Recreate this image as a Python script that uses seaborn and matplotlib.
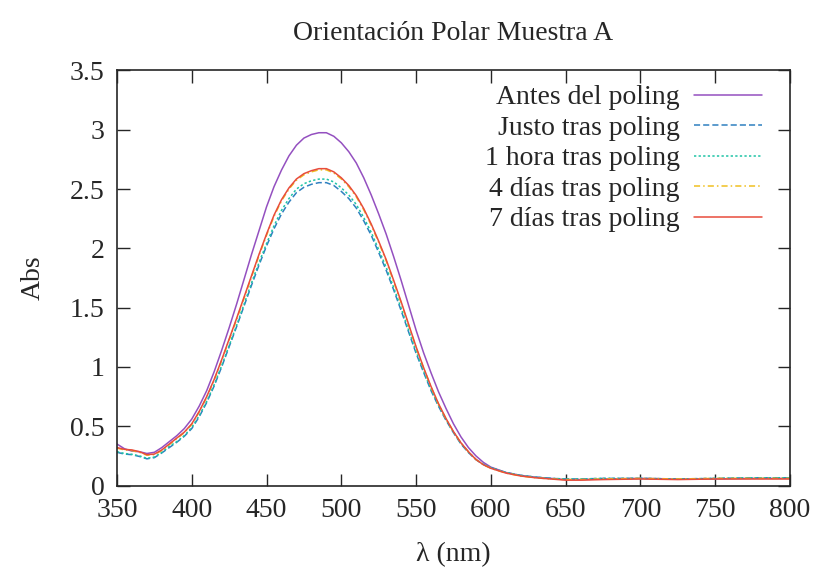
import matplotlib
matplotlib.use('Agg')
import matplotlib.pyplot as plt
import seaborn as sns

# longitudes de onda (nm)
wl = (list(range(350, 400, 5)) + list(range(400, 601, 5))
      + list(range(610, 661, 10)) + [675, 700, 725, 750, 775, 800])

antes = [0.35, 0.31, 0.29, 0.285, 0.27, 0.28, 0.32, 0.37, 0.42, 0.48,
         0.56, 0.67, 0.80, 0.96, 1.14, 1.33, 1.53, 1.74, 1.95, 2.15,
         2.35, 2.52, 2.66, 2.78, 2.87, 2.93, 2.96, 2.975, 2.975, 2.945,
         2.89, 2.815, 2.72, 2.595, 2.45, 2.29, 2.12, 1.93, 1.73, 1.52,
         1.31, 1.12, 0.95, 0.79, 0.65, 0.52, 0.41, 0.32, 0.25, 0.195,
         0.155,
         0.11, 0.085, 0.07, 0.06, 0.05, 0.05,
         0.055, 0.06, 0.055, 0.055, 0.06, 0.06]

justo = [0.28, 0.265, 0.26, 0.245, 0.225, 0.235, 0.275, 0.32, 0.365, 0.415,
         0.48, 0.58, 0.70, 0.84, 1.00, 1.17, 1.34, 1.515, 1.69, 1.86,
         2.02, 2.165, 2.29, 2.39, 2.47, 2.515, 2.54, 2.554, 2.554, 2.53,
         2.48, 2.42, 2.34, 2.232, 2.11, 1.965, 1.815, 1.65, 1.475, 1.295,
         1.115, 0.955, 0.80, 0.668, 0.55, 0.445, 0.35, 0.278, 0.218, 0.177,
         0.15,
         0.11, 0.085, 0.07, 0.06, 0.055, 0.055,
         0.06, 0.06, 0.055, 0.06, 0.065, 0.065]

una_hora = [0.285, 0.27, 0.263, 0.25, 0.229, 0.24, 0.28, 0.33, 0.37, 0.42,
            0.49, 0.59, 0.71, 0.85, 1.01, 1.18, 1.35, 1.53, 1.71, 1.88,
            2.04, 2.19, 2.32, 2.42, 2.50, 2.545, 2.57, 2.584, 2.584, 2.56,
            2.51, 2.45, 2.37, 2.26, 2.135, 1.99, 1.84, 1.67, 1.495, 1.31,
            1.13, 0.965, 0.81, 0.675, 0.555, 0.45, 0.355, 0.28, 0.22, 0.178,
            0.15,
            0.11, 0.085, 0.07, 0.06, 0.055, 0.055,
            0.06, 0.06, 0.055, 0.06, 0.065, 0.065]

cuatro_dias = [0.315, 0.30, 0.295, 0.28, 0.255, 0.26, 0.295, 0.345, 0.395, 0.445,
               0.515, 0.62, 0.745, 0.89, 1.055, 1.228, 1.40, 1.58, 1.76, 1.94,
               2.11, 2.27, 2.40, 2.50, 2.575, 2.62, 2.645, 2.662, 2.662, 2.635,
               2.585, 2.52, 2.435, 2.325, 2.195, 2.05, 1.895, 1.72, 1.54, 1.352,
               1.163, 0.99, 0.83, 0.686, 0.562, 0.453, 0.36, 0.285, 0.22, 0.175,
               0.145,
               0.105, 0.08, 0.065, 0.055, 0.05, 0.05,
               0.055, 0.06, 0.055, 0.06, 0.06, 0.06]

siete_dias = [0.32, 0.305, 0.30, 0.285, 0.26, 0.265, 0.30, 0.35, 0.40, 0.45,
              0.52, 0.625, 0.75, 0.895, 1.06, 1.235, 1.41, 1.59, 1.77, 1.95,
              2.12, 2.28, 2.41, 2.51, 2.585, 2.63, 2.655, 2.672, 2.672, 2.645,
              2.595, 2.53, 2.445, 2.335, 2.205, 2.06, 1.905, 1.73, 1.55, 1.36,
              1.17, 0.995, 0.835, 0.69, 0.565, 0.455, 0.36, 0.285, 0.22, 0.175,
              0.145,
              0.105, 0.08, 0.065, 0.055, 0.045, 0.045,
              0.05, 0.055, 0.05, 0.055, 0.055, 0.055]

etiquetas = ['Antes del poling', 'Justo tras poling', '1 hora tras poling',
             '4 días tras poling', '7 días tras poling']
series = [antes, justo, una_hora, cuatro_dias, siete_dias]
colores = ['#9450c0', '#2f80c0', '#1ec3a6', '#f0c020', '#e84c3c']
estilos = ['-', (0, (4, 2)), (0, (1.5, 1.5)), (0, (4, 2, 1, 2)), '-']

for s in series:
    assert len(s) == len(wl), len(s)

sns.set_style('ticks')
plt.rcParams['font.family'] = ['Liberation Serif', 'DejaVu Serif']
plt.rcParams['font.size'] = 20
plt.rcParams['xtick.direction'] = 'in'
plt.rcParams['ytick.direction'] = 'in'

fig = plt.figure(figsize=(8.14, 5.73), dpi=100)
ax = fig.add_axes([0.1437, 0.1527, 0.8268, 0.7243])

for y, lab, c, ls in zip(series, etiquetas, colores, estilos):
    sns.lineplot(x=wl, y=y, ax=ax, color=c, linestyle=ls, linewidth=1.1, label=lab)

ax.set_xlim(350, 800)
ax.set_ylim(0, 3.5)
ax.set_xticks(range(350, 801, 50))
ax.set_yticks([0, 0.5, 1, 1.5, 2, 2.5, 3, 3.5])
ax.set_yticklabels(['0', '0.5', '1', '1.5', '2', '2.5', '3', '3.5'])
ax.tick_params(top=True, right=True, length=9, width=1, pad=9, labelsize=20)
for s in ax.spines.values():
    s.set_linewidth(1.2)

ax.set_xlabel('λ (nm)', fontsize=20, labelpad=14)
ax.set_ylabel('Abs', fontsize=20, labelpad=17)
ax.set_title('Orientación Polar Muestra A', fontsize=20, pad=22)

ax.legend(loc='upper right', bbox_to_anchor=(0.958, 0.965), frameon=False,
          markerfirst=False, handlelength=2.45, handletextpad=0.5,
          labelspacing=0.18, borderpad=0, borderaxespad=0, fontsize=20)

fig.savefig('out.png', dpi=100)
